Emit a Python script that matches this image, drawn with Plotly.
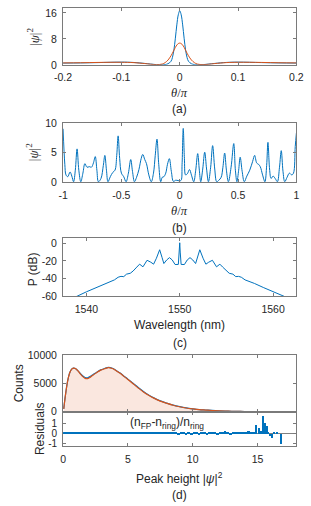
import plotly.graph_objects as go

# ---------------- data ----------------
# (a) single-pulse intensity
a_theta = [-0.2, -0.17, -0.14, -0.1, -0.08, -0.06, -0.05, -0.04, -0.03, -0.025, -0.02, -0.015, -0.0125,
           -0.01, -0.0075, -0.005, -0.0025, 0.0, 0.0025, 0.005, 0.0075, 0.01, 0.0125, 0.015, 0.02,
           0.025, 0.03, 0.04, 0.05, 0.06, 0.08, 0.1, 0.14, 0.17, 0.2]
a_blue = [0.55, 0.6, 0.7, 0.85, 0.75, 0.45, 0.25, 0.08, 0.05, 0.1, 0.35, 1.1, 2.3,
          4.6, 8.2, 12.3, 15.4, 16.6, 15.4, 12.3, 8.2, 4.6, 2.3, 1.1, 0.35,
          0.1, 0.05, 0.08, 0.25, 0.45, 0.75, 0.85, 0.7, 0.6, 0.55]
a_orange = [0.6, 0.65, 0.75, 0.8, 0.7, 0.4, 0.2, 0.08, 0.25, 0.7, 1.5, 2.8, 3.6,
            4.5, 5.4, 6.1, 6.55, 6.7, 6.55, 6.1, 5.4, 4.5, 3.6, 2.8, 1.5,
            0.7, 0.25, 0.08, 0.2, 0.4, 0.7, 0.8, 0.75, 0.65, 0.6]

# (b) chaotic intensity over the ring
b_theta = [-1.0, -0.985, -0.975, -0.96, -0.94, -0.925, -0.91, -0.895, -0.88, -0.865, -0.848, -0.83,
           -0.813, -0.795, -0.775, -0.757, -0.74, -0.724, -0.71, -0.697, -0.675, -0.655, -0.642,
           -0.628, -0.615, -0.595, -0.575, -0.555, -0.54, -0.528, -0.515, -0.5, -0.48, -0.46,
           -0.44, -0.42, -0.405, -0.388, -0.37, -0.35, -0.33, -0.317, -0.3, -0.285, -0.265,
           -0.244, -0.225, -0.21, -0.195, -0.18, -0.163, -0.15, -0.136, -0.12, -0.105, -0.089,
           -0.072, -0.054, -0.035, -0.015, 0.0, 0.012, 0.02, 0.03, 0.04, 0.05, 0.065, 0.084,
           0.1, 0.12, 0.137, 0.154, 0.168, 0.18, 0.197, 0.214, 0.23, 0.246, 0.265, 0.282, 0.3,
           0.317, 0.335, 0.355, 0.37, 0.385, 0.4, 0.417, 0.44, 0.463, 0.477, 0.49, 0.505,
           0.518, 0.535, 0.553, 0.575, 0.6, 0.625, 0.642, 0.66, 0.675, 0.69, 0.71, 0.73,
           0.745, 0.756, 0.77, 0.783, 0.8, 0.818, 0.837, 0.855, 0.87, 0.885, 0.9, 0.92,
           0.94, 0.96, 0.975, 0.99, 1.0]
b_val = [9.0, 3.0, 1.2, 0.9, 1.7, 1.0, 0.05, 2.0, 5.6, 2.0, 0.05, 1.5,
         3.1, 2.5, 2.6, 2.5, 3.2, 4.3, 2.0, 0.05, 0.6, 2.8, 4.5,
         2.0, 0.05, 0.9, 1.6, 2.0, 4.5, 7.8, 4.0, 1.5, 0.9, 0.05,
         1.5, 3.8, 1.8, 0.05, 0.8, 2.1, 4.0, 4.66, 3.8, 3.1, 1.2,
         0.05, 1.5, 4.5, 7.25, 3.0, 0.05, 0.8, 0.9, 1.5, 3.0, 3.95,
         1.8, 0.1, 0.3, 0.25, 0.2, 0.3, 3.0, 9.06, 4.0, 1.2, 1.4, 2.1,
         1.2, 0.05, 2.0, 4.8, 2.0, 0.05, 2.2, 5.05, 2.2, 0.05, 2.5, 6.15, 2.2,
         0.05, 0.3, 0.8, 2.5, 4.9, 2.0, 0.05, 2.5, 6.5, 2.0, 0.05, 2.0,
         4.2, 1.8, 0.05, 1.0, 2.0, 3.5, 4.5, 3.2, 3.0, 2.6, 1.2, 0.05,
         2.8, 6.7, 2.2, 0.6, 1.0, 0.6, 0.05, 2.5, 5.3, 1.8, 0.05, 0.8,
         1.5, 1.2, 1.5, 6.0, 8.3]

# (c) spectrum
c_wl = [1537.5, 1539.0, 1540.0, 1541.0, 1542.0, 1542.4, 1543.0, 1543.4, 1543.7, 1544.0, 1544.3,
        1544.7, 1545.0, 1545.4, 1545.7, 1546.06, 1546.5, 1546.9, 1547.2, 1547.5, 1547.85, 1548.1,
        1548.3, 1548.6, 1548.9, 1549.2, 1549.5, 1549.85, 1549.95, 1550.0, 1550.05, 1550.15,
        1550.5, 1550.8, 1551.1, 1551.4, 1551.7, 1551.9, 1552.15, 1552.5, 1552.8, 1553.1,
        1553.5, 1553.94, 1554.3, 1554.6, 1555.0, 1555.3, 1555.7, 1556.0, 1556.3, 1556.6,
        1557.0, 1557.6, 1558.0, 1559.0, 1560.0, 1561.0, 1562.5]
c_db = [-66, -60, -55, -50.3, -45.5, -43.5, -41.5, -38.5, -37.5, -37.8, -35,
        -34, -31.5, -27, -23.7, -26.7, -19.3, -21.5, -23.7, -17, -7.4, -16,
        -23, -19, -16.3, -19, -24.1, -24, -10, 0.5, -10, -24,
        -24.1, -19, -16.3, -19, -23, -16, -7.4, -17, -23.7, -21.5,
        -19.3, -26.7, -23.7, -27, -31.5, -34, -35, -37.8, -37.5, -38.5,
        -41.5, -43.5, -45.5, -50.3, -55, -60, -66]

# (d) peak-height histograms
d_h = [0.05, 0.2, 0.35, 0.5, 0.65, 0.8, 0.95, 1.1, 1.3, 1.5, 1.7, 1.9, 2.1, 2.3, 2.6, 2.9, 3.2,
       3.5, 3.8, 4.1, 4.4, 4.7, 5.0, 5.4, 5.8, 6.2, 6.6, 7.0, 7.5, 8.0, 8.5, 9.0, 9.5, 10.0,
       10.5, 11.0, 11.5, 12.0, 12.5, 13.0, 13.5, 14.0, 15.0, 16.0, 17.0, 18.0]
d_ring = [500, 3200, 5400, 6800, 7500, 7700, 7650, 7350, 6850, 6350, 6050, 6000, 6250, 6550, 7000,
          7400, 7650, 7850, 7700, 7280, 6830, 6290, 5760, 5020, 4280, 3580, 2960, 2440, 1900,
          1500, 1150, 880, 660, 500, 370, 290, 210, 150, 100, 65, 40, 25, 8, 2, 0, 0]
d_fp = [500, 3200, 5400, 6800, 7500, 7700, 7650, 7350, 6800, 6250, 5900, 5850, 6100, 6450, 6950,
        7350, 7600, 7800, 7650, 7250, 6800, 6250, 5700, 4950, 4200, 3500, 2900, 2400, 1870,
        1480, 1130, 870, 650, 490, 360, 285, 205, 145, 100, 65, 40, 25, 8, 2, 0, 0]

r_h = [0.1, 0.3, 0.5, 0.7, 0.9, 1.1, 1.3, 1.5, 1.7, 1.9, 2.1, 2.3, 2.5, 2.7, 2.9, 3.1, 3.3, 3.5,
       3.7, 3.9, 4.1, 4.3, 4.5, 4.7, 4.9, 5.1, 5.3, 5.5, 5.7, 5.9, 6.1, 6.3, 6.5, 6.7, 6.9, 7.1,
       7.3, 7.5, 7.7, 7.9, 8.1, 8.3, 8.5, 8.7, 8.9, 9.1, 9.3, 9.5, 9.7, 9.9, 10.1, 10.3, 10.5,
       10.7, 10.9, 11.1, 11.3, 11.5, 11.7, 11.9, 12.1, 12.3, 12.5, 12.7, 12.9, 13.1, 13.3, 13.5,
       13.7, 13.9, 14.1, 14.3, 14.5, 14.7, 14.9, 15.1, 15.25, 15.4, 15.55, 15.7, 15.85, 16.0,
       16.15, 16.3, 16.5, 16.8]
r_val = [0.11, 0.1, 0.1, 0.1, 0.1, 0.1, 0.1, 0.1, 0.1, 0.1, 0.1, 0.1, 0.1, 0.1,
         0.1, 0.1, 0.1, 0.1, 0.1, 0.1, 0.1, 0.1, 0.1, 0.1, 0.1, 0.1, 0.1, 0.1,
         0.1, 0.1, 0.1, 0.1, 0.1, 0.1, 0.1, 0.1, 0.1, 0.1, 0.1, 0.1, 0.1,
         0.1, 0.1, 0.1, -0.06, 0.1, 0.1, -0.06, 0.1, -0.06, 0.11, 0.1, -0.07, 0.12, 0.1,
         -0.07, 0.13, 0.1, 0.15, -0.07, 0.11, 0.17, 0.3, 0.12, -0.1, 0.17, 0.1, 0.22, 0.12, 0.22,
         0.16, 0.27, 0.12, 0.22, 0.85, 0.6, 0.3, 1.7, 1.05, 0.75, 0.2, -0.25, -0.4, 0.1, 0.1, -0.95]

# ticks
a_xt = [-0.2, -0.1, 0, 0.1, 0.2]; a_xtt = ["-0.2", "-0.1", "0", "0.1", "0.2"]
a_yt = [0, 8, 16]
b_xt = [-1, -0.5, 0, 0.5, 1]; b_xtt = ["-1", "-0.5", "0", "0.5", "1"]
b_yt = [0, 5, 10]
c_xt = [1540, 1550, 1560]
c_yt = [-60, -40, -20, 0]; c_ytt = ["-60", "-40", "-20", "0"]
d_xt = [0, 5, 10, 15]
d_yt = [0, 5000, 10000]; d_ytt = ["0", "5000", "10000"]
r_yt = [-1, 0, 1]; r_ytt = ["-1", "0", "1"]

# ---------------- style ----------------
W, H = 311, 506
BLUE = "#0072BD"
ORANGE = "#D95319"
AX = "#7a7a7a"
TXT = "#262626"
FONT = "Liberation Sans, Arial, sans-serif"
SERIF = "Liberation Serif, DejaVu Serif, serif"


def py(y):
    return 1 - y / H


def px(x):
    return x / W


XD = [px(57), px(303)]


def axstyle(**kw):
    d = dict(showline=True, linecolor=AX, linewidth=1, mirror="ticks", ticks="inside",
             ticklen=3, tickcolor=AX, tickwidth=1, showgrid=False, zeroline=False,
             ticklabelstandoff=3,
             tickfont=dict(family=FONT, size=10.5, color=TXT))
    d.update(kw)
    return d


fig = go.Figure()
fig.add_trace(go.Scatter(x=a_theta, y=a_blue, mode="lines", xaxis="x", yaxis="y",
                         line=dict(color=BLUE, width=1, shape="spline")))
fig.add_trace(go.Scatter(x=a_theta, y=a_orange, mode="lines", xaxis="x", yaxis="y",
                         line=dict(color=ORANGE, width=1, shape="spline")))
fig.add_trace(go.Scatter(x=b_theta, y=b_val, mode="lines", xaxis="x2", yaxis="y2",
                         line=dict(color=BLUE, width=1, shape="spline", smoothing=1.0)))
fig.add_trace(go.Scatter(x=c_wl, y=c_db, mode="lines", xaxis="x3", yaxis="y3",
                         line=dict(color=BLUE, width=1)))
fig.add_trace(go.Scatter(x=d_h, y=d_fp, mode="lines", xaxis="x4", yaxis="y4", fill="tozeroy",
                         fillcolor="rgba(217,83,25,0.14)", line=dict(width=0, color=ORANGE)))
fig.add_trace(go.Scatter(x=d_h, y=d_ring, mode="lines", xaxis="x4", yaxis="y4",
                         line=dict(color=BLUE, width=1.2, shape="spline")))
fig.add_trace(go.Scatter(x=d_h, y=d_fp, mode="lines", xaxis="x4", yaxis="y4",
                         line=dict(color=ORANGE, width=1.2, shape="spline")))
r_w = [0.2 if h < 14.85 else 0.08 for h in r_h]
fig.add_trace(go.Bar(x=r_h, y=r_val, xaxis="x5", yaxis="y5", width=r_w,
                     marker=dict(color=BLUE, line=dict(width=0))))

fig.update_layout(
    width=W, height=H, margin=dict(l=0, r=0, t=0, b=0), showlegend=False,
    plot_bgcolor="white", paper_bgcolor="white", bargap=0,
    xaxis=axstyle(domain=XD, anchor="y", range=[-0.2, 0.2], tickvals=a_xt, ticktext=a_xtt),
    yaxis=axstyle(domain=[py(60.3), py(1.7)], anchor="x", range=[0, 17.6], tickvals=a_yt),
    xaxis2=axstyle(domain=XD, anchor="y2", range=[-1, 1], tickvals=b_xt, ticktext=b_xtt),
    yaxis2=axstyle(domain=[py(180.3), py(119.7)], anchor="x2", range=[0, 10], tickvals=b_yt),
    xaxis3=axstyle(domain=XD, anchor="y3", range=[1537.5, 1562.5], tickvals=c_xt),
    yaxis3=axstyle(domain=[py(297.3), py(238)], anchor="x3", range=[-60, 5.5], tickvals=c_yt,
                   ticktext=c_ytt),
    xaxis4=axstyle(domain=XD, anchor="y4", range=[0, 18], tickvals=d_xt, showticklabels=False),
    yaxis4=axstyle(domain=[py(415.5), py(357.7)], anchor="x4", range=[0, 10000], tickvals=d_yt,
                   ticktext=d_ytt),
    xaxis5=axstyle(domain=XD, anchor="y5", range=[0, 18], tickvals=d_xt),
    yaxis5=axstyle(domain=[py(450.7), py(415.5)], anchor="x5", range=[-1.22, 2.12], tickvals=r_yt,
                   ticktext=r_ytt, zeroline=True, zerolinecolor="#808080", zerolinewidth=1,
                   layer="below traces",
                   tickfont=dict(family=FONT, size=10, color=TXT)),
)

ann = []


def label(text, x, y, size=12, angle=0, family=FONT):
    ann.append(dict(text=text, x=px(x), y=py(y), xref="paper", yref="paper", showarrow=False,
                    xanchor="center", yanchor="middle", textangle=angle,
                    font=dict(family=family, size=size, color=TXT)))


psi2 = "|<i>ψ</i>|<sup>2</sup>"
thpi = "<i>θ</i>/<i>π</i>"
label(psi2, 26, 32, size=13, angle=-90, family=SERIF)
label(thpi, 180, 89, size=12.5, family=SERIF)
label("(a)", 180, 106)
label(psi2, 25, 150, size=13, angle=-90, family=SERIF)
label(thpi, 180, 210, size=12.5, family=SERIF)
label("(b)", 180, 227)
label("P (dB)", 25, 270, angle=-90)
label("Wavelength (nm)", 180, 327)
label("(c)", 180, 345)
label("Counts", 10, 386, angle=-90)
label("Residuals", 32, 433, angle=-90)
label("Peak height |<i>ψ</i>|<sup>2</sup>", 180, 483)
label("(d)", 180, 500.5)
ann.append(dict(text="(n<sub>FP</sub>-n<sub>ring</sub>)/n<sub>ring</sub>", x=8.0, y=1.0,
                xref="x5", yref="y5", showarrow=False, xanchor="center", yanchor="middle",
                font=dict(family=FONT, size=12, color=TXT)))
fig.update_layout(annotations=ann)

fig.write_html("out.html", config={"displayModeBar": False},
               post_script="document.body.style.margin='0';document.body.style.overflow='hidden';")
